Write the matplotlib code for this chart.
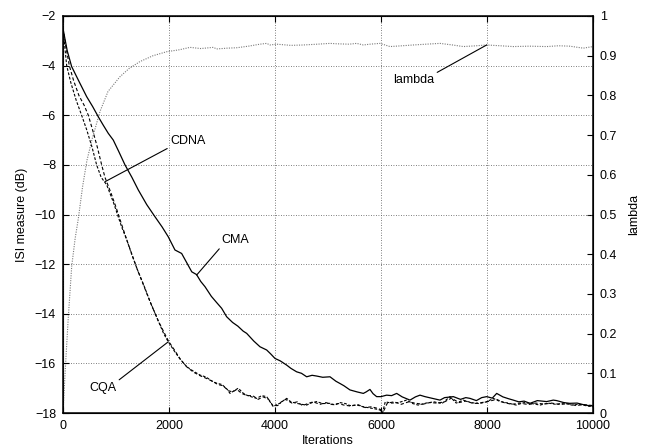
import matplotlib
matplotlib.use("Agg")
import matplotlib.pyplot as plt

# ── data ──────────────────────────────────────────────────────────────────
cma_it = [0, 80, 164, 289, 447, 560, 666, 760, 855, 949, 1050, 1170, 1300, 1421,
          1580, 1736, 1870, 1987, 2113, 2239, 2350, 2430, 2520, 2600, 2680, 2800,
          2900, 2994, 3088, 3200, 3300, 3400, 3466, 3600, 3717, 3843, 3920, 4000,
          4100, 4221, 4300, 4409, 4500, 4598, 4700, 4786, 4900, 5038, 5150, 5226,
          5300, 5415, 5550, 5667, 5720, 5792, 5850, 5918, 6000, 6107, 6200, 6296,
          6400, 6547, 6650, 6736, 6830, 6950, 7113, 7200, 7365, 7500, 7600, 7679,
          7800, 7900, 7994, 8100, 8183, 8300, 8400, 8496, 8600, 8700, 8811, 8950,
          9126, 9250, 9315, 9450, 9560, 9700, 9850, 10000]
cma_isi = [-2.5, -3.4, -4.04, -4.58, -5.25, -5.65, -6.06, -6.4, -6.73, -7.0, -7.45,
           -8.0, -8.5, -9.01, -9.6, -10.09, -10.5, -10.9, -11.43, -11.57, -12.0,
           -12.31, -12.42, -12.7, -12.91, -13.3, -13.55, -13.78, -14.12, -14.35,
           -14.5, -14.7, -14.79, -15.1, -15.33, -15.46, -15.62, -15.8, -15.9, -16.07,
           -16.2, -16.34, -16.4, -16.54, -16.48, -16.51, -16.56, -16.54, -16.72,
           -16.81, -16.9, -17.07, -17.15, -17.21, -17.15, -17.05, -17.22, -17.34,
           -17.34, -17.28, -17.3, -17.21, -17.35, -17.48, -17.35, -17.28, -17.34,
           -17.4, -17.48, -17.38, -17.34, -17.45, -17.38, -17.41, -17.5, -17.38,
           -17.34, -17.4, -17.21, -17.35, -17.42, -17.48, -17.55, -17.52, -17.61,
           -17.5, -17.54, -17.48, -17.5, -17.58, -17.61, -17.6, -17.68, -17.72]

cqa_it = [0, 70, 150, 250, 352, 450, 550, 635, 720, 824, 950, 1107, 1200, 1296,
          1400, 1516, 1642, 1800, 1900, 1987, 2100, 2200, 2333, 2450, 2585, 2700,
          2800, 2900, 3000, 3100, 3151, 3230, 3308, 3400, 3466, 3560, 3654, 3750,
          3843, 3969, 4030, 4094, 4160, 4221, 4300, 4409, 4500, 4598, 4700, 4786,
          4900, 5038, 5130, 5226, 5330, 5415, 5550, 5667, 5800, 5930, 5981, 6030,
          6080, 6200, 6330, 6484, 6600, 6700, 6850, 7000, 7150, 7302, 7420, 7550,
          7700, 7850, 7994, 8119, 8250, 8400, 8550, 8700, 8850, 9000, 9150, 9300,
          9450, 9600, 9750, 9900, 10000]
cqa_isi = [-2.5, -4.0, -4.7, -5.4, -6.0, -6.6, -7.3, -8.0, -8.5, -8.8, -9.5, -10.5,
           -11.0, -11.6, -12.2, -12.8, -13.5, -14.3, -14.8, -15.13, -15.5, -15.8,
           -16.13, -16.3, -16.47, -16.55, -16.7, -16.8, -16.85, -17.05, -17.21,
           -17.1, -17.0, -17.2, -17.28, -17.35, -17.41, -17.3, -17.34, -17.75,
           -17.65, -17.61, -17.5, -17.41, -17.55, -17.61, -17.65, -17.68, -17.58,
           -17.54, -17.62, -17.61, -17.68, -17.58, -17.62, -17.7, -17.68, -17.75,
           -17.8, -17.85, -17.88, -17.99, -17.55, -17.6, -17.58, -17.48, -17.62,
           -17.68, -17.6, -17.55, -17.62, -17.34, -17.6, -17.48, -17.58, -17.62,
           -17.55, -17.41, -17.54, -17.6, -17.68, -17.58, -17.62, -17.68, -17.6,
           -17.65, -17.6, -17.68, -17.65, -17.72, -17.75]

cdna_it = [0, 60, 120, 200, 300, 400, 478, 560, 650, 730, 792, 900, 1000, 1107,
           1200, 1300, 1400, 1520, 1650, 1800, 1990, 2100, 2220, 2340, 2460, 2590,
           2700, 2820, 2920, 3020, 3120, 3200, 3280, 3380, 3480, 3580, 3680, 3780,
           3880, 3960, 4050, 4120, 4200, 4320, 4420, 4520, 4620, 4720, 4850, 4960,
           5080, 5200, 5300, 5430, 5560, 5700, 5820, 5950, 6050, 6120, 6250, 6380,
           6520, 6640, 6780, 6920, 7060, 7200, 7330, 7470, 7600, 7750, 7900, 8050,
           8180, 8320, 8470, 8620, 8780, 8920, 9080, 9220, 9380, 9520, 9680, 9820,
           10000]
cdna_isi = [-2.5, -3.3, -4.0, -4.6, -5.2, -5.6, -6.0, -6.6, -7.3, -8.0, -8.5, -9.1,
            -9.7, -10.4, -11.0, -11.6, -12.2, -12.85, -13.55, -14.3, -15.1, -15.45,
            -15.85, -16.15, -16.35, -16.5, -16.6, -16.72, -16.85, -16.9, -17.1,
            -17.15, -17.05, -17.22, -17.3, -17.3, -17.45, -17.35, -17.45, -17.7,
            -17.7, -17.55, -17.45, -17.6, -17.55, -17.7, -17.62, -17.55, -17.65,
            -17.58, -17.66, -17.62, -17.68, -17.72, -17.66, -17.78, -17.75, -17.82,
            -17.92, -17.6, -17.55, -17.65, -17.55, -17.6, -17.65, -17.58, -17.6,
            -17.55, -17.4, -17.58, -17.52, -17.62, -17.58, -17.52, -17.45, -17.58,
            -17.65, -17.6, -17.66, -17.6, -17.64, -17.6, -17.66, -17.62, -17.7,
            -17.66, -17.7]

lam_it = [0, 50, 100, 165, 230, 290, 370, 450, 550, 700, 850, 1075, 1250, 1450,
          1700, 1956, 2200, 2396, 2600, 2836, 2900, 3100, 3277, 3500, 3717, 3843,
          3906, 4031, 4300, 4534, 4800, 5038, 5164, 5400, 5541, 5667, 5792, 5981,
          6170, 6400, 6610, 6850, 7113, 7350, 7553, 7800, 7994, 8250, 8496, 8800,
          9126, 9350, 9560, 9817, 10000]
lam_val = [0.0, 0.125, 0.24, 0.37, 0.44, 0.49, 0.57, 0.635, 0.69, 0.76, 0.81, 0.847,
           0.868, 0.885, 0.90, 0.91, 0.915, 0.921, 0.918, 0.921, 0.917, 0.919, 0.920,
           0.924, 0.929, 0.931, 0.927, 0.929, 0.926, 0.927, 0.929, 0.931, 0.930,
           0.929, 0.931, 0.927, 0.929, 0.931, 0.923, 0.925, 0.927, 0.929, 0.931,
           0.927, 0.923, 0.925, 0.927, 0.925, 0.923, 0.924, 0.923, 0.925, 0.924,
           0.919, 0.923]

x_ticks = [0, 2000, 4000, 6000, 8000, 10000]
y_ticks = [-2, -4, -6, -8, -10, -12, -14, -16, -18]
lam_ticks = [0, 0.1, 0.2, 0.3, 0.4, 0.5, 0.6, 0.7, 0.8, 0.9, 1]

plt.rcParams.update({
    "font.family": ["Liberation Sans", "DejaVu Sans"],
    "font.size": 9,
    "axes.unicode_minus": True,
})

fig = plt.figure(figsize=(6.58, 4.48), dpi=100)
ax = fig.add_axes([0.0957, 0.0781, 0.8055, 0.8862])
ax2 = ax.twinx()
ax.set_zorder(ax2.get_zorder() + 1)
ax.patch.set_visible(False)

# lambda on right axis
ax2.plot(lam_it, lam_val, color="#7a7a7a", lw=0.8, ls=(0, (1, 1.2)))

# ISI curves
ax.plot(cma_it, cma_isi, color="black", lw=0.9, ls="-")
ax.plot(cdna_it, cdna_isi, color="black", lw=0.8, ls=(0, (3, 2)))
ax.plot(cqa_it, cqa_isi, color="black", lw=0.8, ls=(0, (2.5, 1.5)))

ax.set_xlim(0, 10000)
ax.set_ylim(-18, -2)
ax2.set_ylim(0, 1)
ax.set_xticks(x_ticks)
ax.set_yticks(y_ticks)
ax2.set_yticks(lam_ticks)
ax2.set_yticklabels([f"{t:g}" for t in lam_ticks])

ax.grid(True, color="#555555", lw=0.6, ls=(0, (1, 2)))
ax.tick_params(direction="in", length=4, width=0.8, top=True, right=False, pad=5)
ax2.tick_params(direction="in", length=4, width=0.8, pad=5)
for sp in ax.spines.values():
    sp.set_linewidth(1.1)

ax.set_ylabel("ISI measure (dB)", labelpad=5)
ax.set_xlabel("Iterations", labelpad=2)
ax2.set_ylabel("lambda", labelpad=8)

line = dict(arrowstyle="-", color="black", lw=0.8, shrinkA=0, shrinkB=0)
ax.annotate("CDNA", xy=(792, -8.68), xytext=(2019, -7.04), ha="left", va="center",
            arrowprops=dict(line, relpos=(0, 0)))
ax.annotate("CMA", xy=(2522, -12.44), xytext=(2994, -11.03), ha="left", va="center",
            arrowprops=dict(line, relpos=(0, 0)))
ax.annotate("CQA", xy=(1987, -15.13), xytext=(496, -16.99), ha="left", va="center",
            arrowprops=dict(line, relpos=(1, 1)))
ax2.annotate("lambda", xy=(7994, 0.927), xytext=(6232, 0.839), ha="left", va="center",
             arrowprops=dict(line, relpos=(1, 1)))

fig.savefig("out.png", dpi=100)
